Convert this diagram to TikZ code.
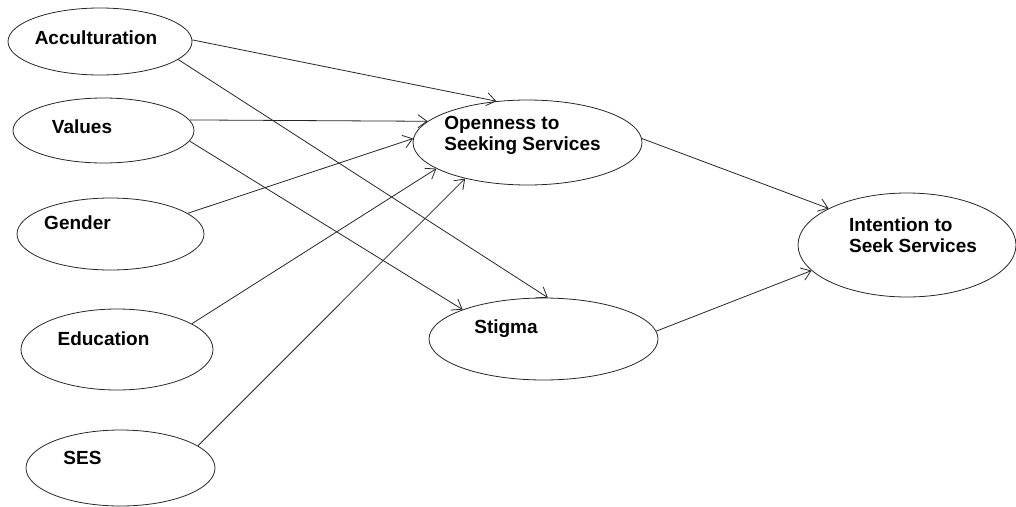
\documentclass[tikz,border=0pt]{standalone}
\usepackage{fontspec}
\setmainfont{Liberation Sans}
\usetikzlibrary{arrows.meta,shapes.geometric}
\begin{document}
\begin{tikzpicture}[x=1pt,y=-1pt,
    oval/.style={draw=black!85, ellipse, line width=0.8pt, inner sep=0pt},
    lbl/.style={align=left, inner sep=0pt, font=\fontsize{19}{21}\selectfont\bfseries},
    link/.style={draw=black!85, line width=0.8pt, -{Straight Barb[length=9pt,width=13pt]}}]
    \useasboundingbox (0,0) rectangle (1016,506);
    \node [oval, minimum width=184pt, minimum height=67pt,
        label={[lbl,xshift=-4pt,yshift=4pt]center:Acculturation}] (acc) at (100,41.5) {};
    \node [oval, minimum width=181pt, minimum height=65pt,
        label={[lbl,xshift=-21.5pt,yshift=4pt]center:Values}] (val) at (103.5,130.5) {};
    \node [oval, minimum width=187pt, minimum height=72pt,
        label={[lbl,xshift=-33pt,yshift=11pt]center:Gender}] (gen) at (110.5,234) {};
    \node [oval, minimum width=192pt, minimum height=81pt,
        label={[lbl,xshift=-13.5pt,yshift=11pt]center:Education}] (edu) at (117,349.5) {};
    \node [oval, minimum width=189pt, minimum height=76pt,
        label={[lbl,xshift=-38pt,yshift=10.5pt]center:SES}] (ses) at (120.5,468) {};
    \node [oval, minimum width=229pt, minimum height=85pt,
        label={[lbl,xshift=-5pt,yshift=7.5pt]center:Openness to\\Seeking Services}] (open) at (527.5,142.5) {};
    \node [oval, minimum width=229pt, minimum height=82pt,
        label={[lbl,xshift=-37.5pt,yshift=10.5pt]center:Stigma}] (stig) at (543.5,339) {};
    \node [oval, minimum width=218pt, minimum height=104pt,
        label={[lbl,xshift=6pt,yshift=10pt]center:Intention to\\Seek Services}] (int) at (907,245) {};
    \draw [link] (acc.1) -- (open.127);
    \draw [link] (acc.-13) -- (stig.84);
    \draw [link] (val.7) -- (open.168);
    \draw [link] (val.-7) -- (stig.160);
    \draw [link] (gen.15) -- (open.178);
    \draw [link] (edu.19) -- (open.196);
    \draw [link] (ses.16) -- (open.210);
    \draw [link] (open.2) -- (int.155);
    \draw [link] (stig.4) -- (int.195);
\end{tikzpicture}
\end{document}
